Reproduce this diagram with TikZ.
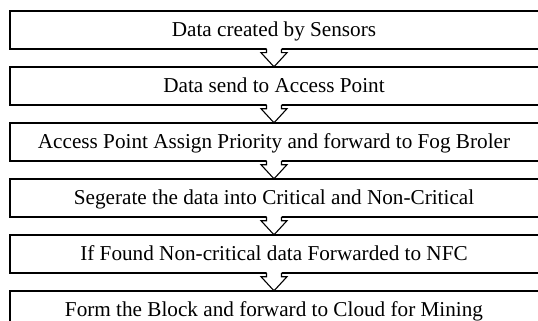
\documentclass[tikz,border=0pt]{standalone}
\usepackage{fontspec}
\setmainfont{Liberation Serif}
\usetikzlibrary{calc}
\tikzset{
  stepbox/.style={minimum width=528pt, minimum height=38pt,
    inner sep=0pt, font=\fontsize{21.2}{25}\selectfont, text height=15pt, text depth=2pt},
  boxline/.style={draw, line width=1.5pt},
  blkline/.style={draw, line width=1.1pt, line join=miter},
}
\newcommand{\blockarrow}[2]{%
  \fill[white] ($(#1.south)+(-7.5,1.2)$) -- ($(#1.south)+(-7.5,-3.5)$) -- ($(#1.south)+(-13,-3.5)$) -- (#2.north) -- ($(#1.south)+(13,-3.5)$) -- ($(#1.south)+(7.5,-3.5)$) -- ($(#1.south)+(7.5,1.2)$) -- cycle;
  \draw[blkline] ($(#1.south)+(-7.5,0)$) -- ($(#1.south)+(-7.5,-3.5)$) -- ($(#1.south)+(-13,-3.5)$) -- (#2.north) -- ($(#1.south)+(13,-3.5)$) -- ($(#1.south)+(7.5,-3.5)$) -- ($(#1.south)+(7.5,0)$);%
}
\begin{document}
\begin{tikzpicture}[x=1pt,y=1pt]
\useasboundingbox (0,0) rectangle (538,-321);
\clip (0,0) rectangle (538,-321);
\fill[white] (0,0) rectangle (538,-321);
\node[stepbox] (b1) at (274,-30) {Data created by Sensors};
\node[stepbox] (b2) at (274,-86) {Data send to Access Point};
\node[stepbox] (b3) at (274,-142) {Access Point Assign Priority and forward to Fog Broler};
\node[stepbox] (b4) at (274,-198) {Segerate the data into Critical and Non-Critical};
\node[stepbox] (b5) at (274,-254) {If Found Non-critical data Forwarded to NFC};
\node[stepbox] (b6) at (274,-310) {Form the Block and forward to Cloud for Mining};
\foreach \b in {b1,b2,b3,b4,b5,b6}
  \draw[boxline] (\b.south west) rectangle ([xshift=12pt]\b.north east);
\blockarrow{b1}{b2}
\blockarrow{b2}{b3}
\blockarrow{b3}{b4}
\blockarrow{b4}{b5}
\blockarrow{b5}{b6}
\end{tikzpicture}
\end{document}
